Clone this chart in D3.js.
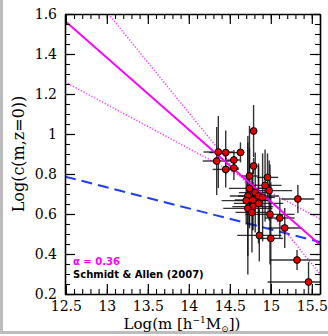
<!DOCTYPE html>
<html><head><meta charset="utf-8">
<script src="https://cdn.jsdelivr.net/npm/d3@7/dist/d3.min.js"></script>
<style>body{margin:0;background:#fff}svg{display:block}</style>
</head><body>
<svg id="c" width="328" height="336"></svg>
<script>
// ---- data ----
const xMajorTicks = [12.5, 13, 13.5, 14, 14.5, 15, 15.5];
const yMajorTicks = [0.2, 0.4, 0.6, 0.8, 1, 1.2, 1.4, 1.6];
const yTickLabels = ["0.2","0.4","0.6","0.8","1","1.2","1.4","1.6"];
const xTickLabels = ["12.5","13","13.5","14","14.5","15","15.5"];

const mass = [14.79,14.36,14.45,14.63,14.34,14.55,14.45,14.55,14.79,14.74,14.96,14.93,14.74,14.98,14.81,14.72,14.85,14.90,14.70,14.78,14.85,15.33,14.78,14.72,14.77,14.99,15.11,15.17,14.86,15.00,15.32,15.46];
const logc = [1.015,0.910,0.907,0.908,0.865,0.870,0.823,0.830,0.840,0.790,0.783,0.743,0.728,0.717,0.707,0.690,0.690,0.683,0.667,0.670,0.653,0.675,0.637,0.628,0.608,0.598,0.580,0.530,0.493,0.478,0.370,0.260];
const errMass = [0.04,0.18,0.20,0.05,0.17,0.08,0.16,0.06,0.05,0.10,0.13,0.20,0.25,0.28,0.20,0.22,0.25,0.15,0.30,0.22,0.30,0.20,0.25,0.30,0.20,0.30,0.18,0.20,0.27,0.15,0.33,0.50];
const errLogc = [0.13,0.18,0.11,0.05,0.17,0.05,0.09,0.06,0.04,0.25,0.12,0.18,0.20,0.15,0.20,0.30,0.15,0.22,0.12,0.15,0.20,0.07,0.12,0.33,0.20,0.25,0.10,0.10,0.13,0.28,0.05,0.10];

// fitted relation (alpha = 0.36) and its slope range, and model curve
const fitX = [12.49, 15.6], fitY = [1.565, 0.446];
const upperX = [13.02, 15.6], upperY = [1.6, 0.30];
const lowerX = [12.49, 15.6], lowerY = [1.26, 0.575];
const modelX = [12.49, 15.6], modelY = [0.787, 0.46];

// ---- layout ----
const L = 65, R = 320, T = 14, B = 294;
const svg = d3.select("#c");
const x = d3.scaleLinear().domain([12.49, 15.6]).range([L, R]);
const y = d3.scaleLinear().domain([0.2, 1.6]).range([B, T]);

// gray frame bits
svg.append("rect").attr("x",0).attr("y",0).attr("width",3).attr("height",334).attr("fill","#bdbdbd");
svg.append("rect").attr("x",0).attr("y",331).attr("width",328).attr("height",3).attr("fill","#bdbdbd");

svg.append("clipPath").attr("id","clip").append("rect")
  .attr("x",L).attr("y",T).attr("width",R-L).attr("height",B-T);
const g = svg.append("g").attr("clip-path","url(#clip)");

const line = d3.line().x(d=>x(d[0])).y(d=>y(d[1]));
const pts = (xs, ys) => xs.map((v,i)=>[v, ys[i]]);

g.append("path").attr("d", line(pts(modelX, modelY))).attr("fill","none")
  .attr("stroke","#1f3cff").attr("stroke-width",2).attr("stroke-dasharray","11,6");
g.append("path").attr("d", line(pts(upperX, upperY))).attr("fill","none")
  .attr("stroke","#ff33ff").attr("stroke-width",1.5).attr("stroke-dasharray","1.2,1.8");
g.append("path").attr("d", line(pts(lowerX, lowerY))).attr("fill","none")
  .attr("stroke","#ff33ff").attr("stroke-width",1.5).attr("stroke-dasharray","1.2,1.8");

// error bars
const eb = g.append("g").attr("stroke","#111").attr("stroke-width",1.4).attr("stroke-opacity",0.85);
mass.forEach((m,i)=>{
  eb.append("line").attr("x1",x(m-errMass[i])).attr("x2",x(m+errMass[i]))
    .attr("y1",y(logc[i])).attr("y2",y(logc[i]));
  eb.append("line").attr("x1",x(m)).attr("x2",x(m))
    .attr("y1",y(logc[i]-errLogc[i])).attr("y2",y(logc[i]+errLogc[i]));
});

g.append("path").attr("d", line(pts(fitX, fitY))).attr("fill","none")
  .attr("stroke","#ff00ff").attr("stroke-width",2);

g.append("g").selectAll("circle").data(mass).join("circle")
  .attr("cx",(d)=>x(d)).attr("cy",(d,i)=>y(logc[i])).attr("r",3.4)
  .attr("fill","#e00000").attr("stroke","#000").attr("stroke-width",1);

// ---- axes (ticks inward on all four sides) ----
const xMinor = d3.range(125,157).map(v=>v/10);
const yMinor = d3.range(4,33).map(v=>v/20);
const font = "'DejaVu Serif', serif";
function styleAxis(sel){
  sel.selectAll("path.domain").attr("stroke","#000").attr("stroke-width",1.6);
  sel.selectAll(".tick line").attr("stroke","#000").attr("stroke-width",1.2);
  sel.selectAll("text").attr("font-family",font).attr("font-size",14).attr("fill","#000");
}
function minor(axisGen, vals, transform){
  const s = svg.append("g").attr("transform",transform).call(axisGen.tickValues(vals).tickSizeInner(-5).tickSizeOuter(0).tickFormat(""));
  s.select("path.domain").remove();
  s.selectAll(".tick line").attr("stroke","#000").attr("stroke-width",1.1);
}
minor(d3.axisBottom(x), xMinor, `translate(0,${B})`);
minor(d3.axisTop(x), xMinor, `translate(0,${T})`);
minor(d3.axisLeft(y), yMinor, `translate(${L},0)`);
minor(d3.axisRight(y), yMinor, `translate(${R},0)`);

const xb = svg.append("g").attr("transform",`translate(0,${B})`)
  .call(d3.axisBottom(x).tickValues(xMajorTicks).tickSizeInner(-10).tickSizeOuter(0).tickPadding(7)
    .tickFormat((d,i)=>xTickLabels[i]));
styleAxis(xb);
const xt = svg.append("g").attr("transform",`translate(0,${T})`)
  .call(d3.axisTop(x).tickValues(xMajorTicks).tickSizeInner(-10).tickSizeOuter(0).tickFormat(""));
styleAxis(xt);
const yl = svg.append("g").attr("transform",`translate(${L},0)`)
  .call(d3.axisLeft(y).tickValues(yMajorTicks).tickSizeInner(-10).tickSizeOuter(0).tickPadding(8)
    .tickFormat((d,i)=>yTickLabels[i]));
styleAxis(yl);
const yr = svg.append("g").attr("transform",`translate(${R},0)`)
  .call(d3.axisRight(y).tickValues(yMajorTicks).tickSizeInner(-10).tickSizeOuter(0).tickFormat(""));
styleAxis(yr);

// ---- titles ----
svg.append("text").attr("transform",`translate(24,${(T+B)/2}) rotate(-90)`)
  .attr("text-anchor","middle").attr("font-family",font).attr("font-size",16)
  .text("Log(c(m,z=0))");
const xt2 = svg.append("text").attr("x",182).attr("y",329).attr("text-anchor","middle")
  .attr("font-family",font).attr("font-size",15);
xt2.append("tspan").text("Log(m [h");
xt2.append("tspan").attr("font-size",9).attr("dy",-6).text("−1");
xt2.append("tspan").attr("dy",6).text("M");
xt2.append("tspan").attr("font-size",9).attr("dy",3).text("⊙");
xt2.append("tspan").attr("dy",-3).text("])");

// ---- annotations ----
svg.append("text").attr("x",73).attr("y",265).attr("font-family","'DejaVu Sans', sans-serif")
  .attr("font-weight","bold").attr("font-size",10).attr("fill","#ff00ff").text("α = 0.36");
svg.append("text").attr("x",73).attr("y",278).attr("font-family","'DejaVu Sans', sans-serif")
  .attr("font-weight","bold").attr("font-size",10).attr("fill","#000").text("Schmidt & Allen (2007)");
</script>
</body></html>
